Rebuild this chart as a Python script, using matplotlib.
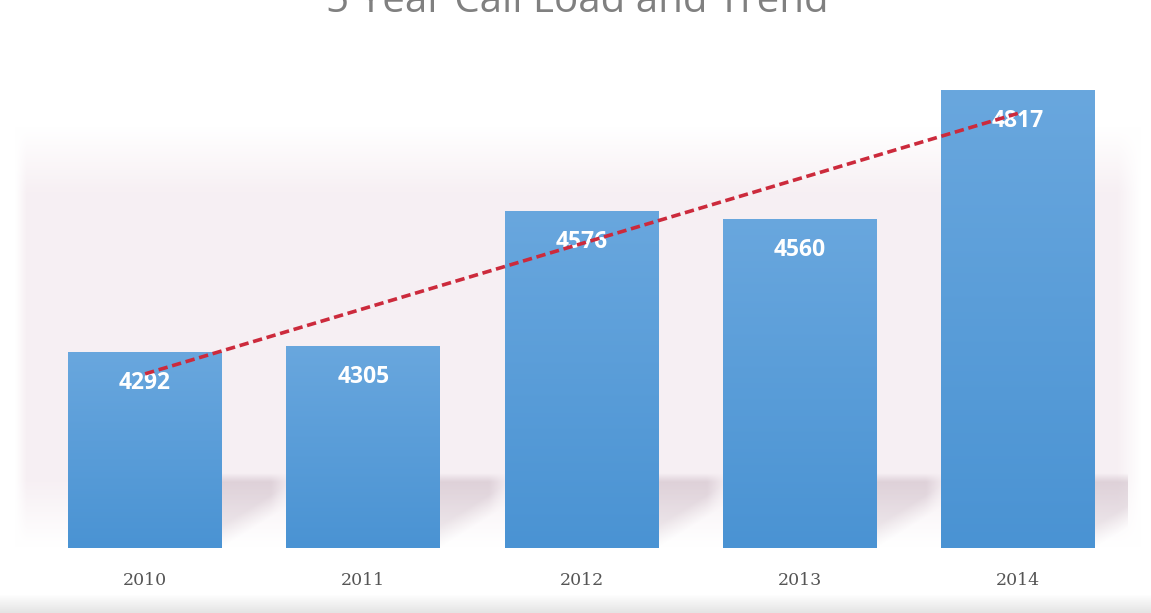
import numpy as np
import matplotlib.pyplot as plt
from matplotlib.colors import LinearSegmentedColormap

# call volume per year
years = ['2010', '2011', '2012', '2013', '2014']
calls = [4292, 4305, 4576, 4560, 4817]
title = '5 Year Call Load and Trend'

y_min, y_max = 3900, 4900
bar_width = 0.705
W, H = 1151, 613

fig = plt.figure(figsize=(W / 100, H / 100), dpi=100)
fig.patch.set_facecolor('white')

# faint grey strip along the bottom of the slide
strip = fig.add_axes([0, 0, 1, 0.03], zorder=-5)
g = np.linspace(0, 1, 50).reshape(-1, 1)
strip.imshow(g, aspect='auto', cmap=LinearSegmentedColormap.from_list('s', ['#e4e4e4', '#ffffff']),
             extent=[0, 1, 0, 1], origin='lower')
strip.axis('off')

# pinkish haze panel behind the plot area
haze = fig.add_axes([14 / W, (H - 560) / H, (1142 - 14) / W, (560 - 95) / H], zorder=-4)
yy = np.linspace(0, 1, 400)
xx = np.linspace(0, 1, 400)
vband = np.clip((yy - 0.03) / 0.14, 0, 1) * np.clip((0.93 - yy) / 0.14, 0, 1)
hband = np.clip(xx / 0.01, 0, 1) * np.clip((1 - xx) / 0.02, 0, 1)
band = vband[:, None] * hband[None, :]
pink = np.array([0.968, 0.940, 0.955])
rgb = 1 - band[:, :, None] * (1 - pink)
haze.imshow(rgb, aspect='auto', extent=[0, 1, 0, 1], origin='lower', interpolation='bilinear')
haze.axis('off')

ax = fig.add_axes([36 / W, (H - 548) / H, 1091 / W, 499 / H])
ax.patch.set_alpha(0)
x = np.arange(len(years))
ax.set_xlim(-0.5, len(years) - 0.5)
ax.set_ylim(y_min, y_max)

# soft shadows to the lower right of each bar
sh_w, sh_top = 0.32, 4050
u = np.linspace(0, 1, 120)[None, :]
v = np.linspace(0, 1, 120)[:, None]
edge = 0.35 + 0.65 * (1 - u)              # diagonal lower boundary
alpha = (np.clip((v - (1 - edge) * 0.9) / 0.3, 0, 1)
         * np.clip((1 - v) / 0.12, 0, 1)
         * (0.4 + 0.6 * v)
         * np.clip((1 - u) / 0.3, 0, 1))
shadow = np.zeros((120, 120, 4))
shadow[..., :3] = [0.70, 0.60, 0.66]
shadow[..., 3] = 0.38 * alpha
for xi in x:
    right = xi + bar_width / 2
    ax.imshow(shadow, aspect='auto', origin='lower', interpolation='bilinear',
              extent=[right, right + sh_w, y_min, sh_top], zorder=1)

# bars with a light-to-dark vertical gradient
bar_cmap = LinearSegmentedColormap.from_list('bar', ['#4a93d3', '#69a7de'])
bars = ax.bar(x, calls, width=bar_width, bottom=0, color='none', zorder=2)
for b in bars:
    x0, w, h = b.get_x(), b.get_width(), b.get_height()
    grad = np.linspace(0, 1, 256).reshape(-1, 1)
    im = ax.imshow(grad, aspect='auto', cmap=bar_cmap, origin='lower',
                   extent=[x0, x0 + w, y_min, h], zorder=2)
    im.set_clip_path(b)

# linear trend through the yearly values
coef = np.polyfit(x, calls, 1)
trend = np.polyval(coef, x)
ax.plot(x, trend, color='#cc2a3c', lw=2.6, ls=(0, (2.6, 1.3)), zorder=4)

for xi, v in zip(x, calls):
    ax.text(xi, v - 62, str(v), ha='center', va='center', color='white',
            fontsize=16.5, fontweight='bold', family='Open Sans', zorder=3)

ax.set_xticks(x)
ax.set_xticklabels(years, family='DejaVu Serif', fontsize=12.5, color='#555555')
ax.tick_params(axis='x', length=0, pad=17)
ax.set_yticks([])
for s in ax.spines.values():
    s.set_visible(False)

fig.text(0.502, 1 - 12 / H, title, ha='center', va='baseline',
         fontsize=29, color='#808080', family='Open Sans')

fig.savefig('out.png', dpi=100)
